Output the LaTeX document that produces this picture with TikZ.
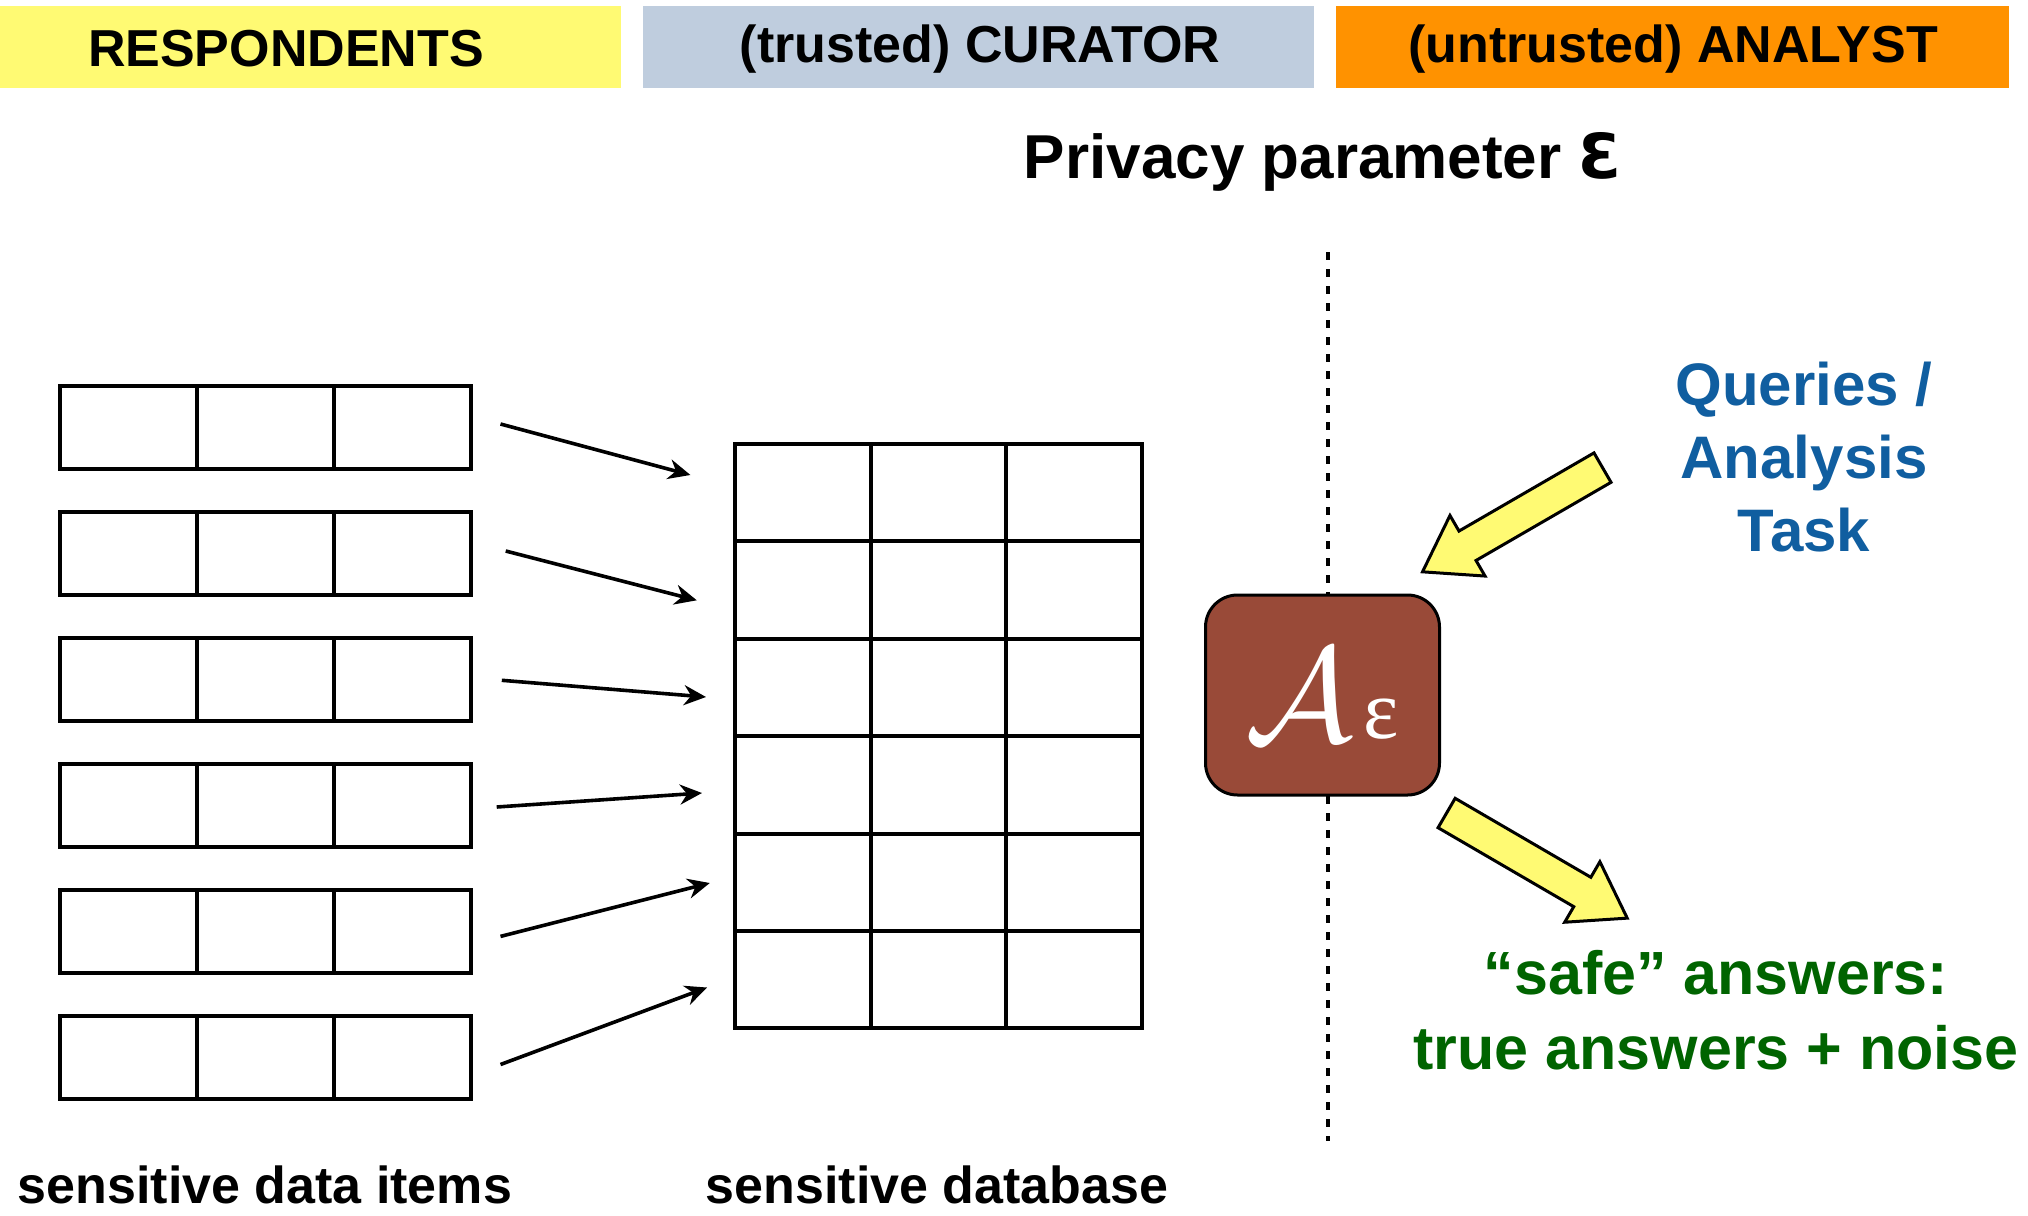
\documentclass[tikz,border=0pt]{standalone}
\usepackage{fontspec}
\usepackage{graphicx}
\setmainfont{Liberation Sans}
\newfontfamily\greekserif{Liberation Serif}
\newfontfamily\dejavu{DejaVu Sans}
\usetikzlibrary{arrows.meta}
\definecolor{hdryellow}{RGB}{255,250,115}
\definecolor{hdrblue}{RGB}{191,205,222}
\definecolor{hdrorange}{RGB}{255,146,0}
\definecolor{algbrown}{RGB}{153,74,56}
\definecolor{qblue}{RGB}{16,94,160}
\definecolor{agreen}{RGB}{0,100,0}
\begin{document}
\begin{tikzpicture}[x=1pt,y=-1pt,
  hdrtext/.style={font=\fontsize{52}{60}\selectfont\bfseries, inner sep=0pt},
  cell/.style={draw=black, line width=4pt, minimum width=137pt, minimum height=83pt, inner sep=0pt, outer sep=0pt},
  dbcell/.style={draw=black, line width=4pt, minimum width=135.7pt, minimum height=97.4pt, inner sep=0pt, outer sep=0pt},
  dataarrow/.style={line width=3.6pt, -{Stealth[length=22pt,width=20pt]}},
  divider/.style={line width=3.5pt, dash pattern=on 8pt off 9pt},
  algbox/.style={draw=black, line width=3pt, fill=algbrown, rounded corners=32pt, minimum width=234pt, minimum height=200pt, inner sep=0pt},
  fatarrow/.style={draw=black, line width=3pt, fill=hdryellow, line join=miter},
  bigtext/.style={font=\fontsize{60}{73}\selectfont\bfseries, align=center, inner sep=0pt},
  labeltext/.style={font=\fontsize{52}{60}\selectfont\bfseries, inner sep=0pt}
]
\useasboundingbox (0,0) rectangle (2028,1215);
\fill[white] (0,0) rectangle (2028,1215);
% header bars
\fill[hdryellow] (0,6) rectangle (621,88);
\fill[hdrblue] (643,6) rectangle (1314,88);
\fill[hdrorange] (1336,6) rectangle (2009,88);
\node[hdrtext] (resp) at (286,49) {RESPONDENTS};
\node[hdrtext] (cur) at (980,49) {(trusted) CURATOR};
\node[hdrtext] (ana) at (1673,49) {(untrusted) ANALYST};
% privacy parameter
\node[font=\fontsize{62}{70}\selectfont\bfseries, inner sep=0pt] (priv) at (1323,162) {Privacy parameter {\dejavu\bfseries Ɛ}};
% respondents rows
\foreach \i in {0,...,5}{
  \foreach \j in {0,1,2}{
    \node[cell] (r\i c\j) at ({59.5+137*(\j+0.5)},{385.5+126*\i+41.5}) {};
  }
}
% database
\foreach \i in {0,...,5}{
  \foreach \j in {0,1,2}{
    \node[dbcell] (d\i c\j) at ({735+135.7*(\j+0.5)},{444+97.4*(\i+0.5)}) {};
  }
}
% data arrows
\coordinate (s0) at (500.5,424);   \coordinate (t0) at (690.4,475);
\coordinate (s1) at (505.7,551);   \coordinate (t1) at (696.8,600.3);
\coordinate (s2) at (501.8,680.3); \coordinate (t2) at (706,697);
\coordinate (s3) at (496.7,807);   \coordinate (t3) at (702,793);
\coordinate (s4) at (500.5,936.4); \coordinate (t4) at (709.8,883);
\coordinate (s5) at (500.5,1064.5);\coordinate (t5) at (707.2,987.5);
\foreach \k in {0,...,5}{ \draw[dataarrow] (s\k) -- (t\k); }
% divider
\coordinate (dtop) at (1328,252);
\coordinate (dbot) at (1328,1141);
\draw[divider] (dtop) -- (dbot);
% algorithm box
\node[algbox] (alg) at (1322.5,695) {\textcolor{white}{\raisebox{-3pt}{\scalebox{13.5}{$\mathcal{A}$}}\hspace{10pt}{\fontsize{84}{84}\selectfont\greekserif ε}}};
% yellow arrows
\begin{scope}[shift={(1602.5,467.6)}, rotate=210.07]
  \draw[fatarrow] (0,-17) -- (156,-17) -- (156,-35) -- (208,0) -- (156,35) -- (156,17) -- (0,17) -- cycle;
\end{scope}
\begin{scope}[shift={(1446.6,813)}, rotate=-30.2]
  \draw[fatarrow] (0,-17) -- (157,-17) -- (157,-35) -- (209,0) -- (157,35) -- (157,17) -- (0,17) -- cycle;
\end{scope}
% texts
\node[bigtext, text=qblue] (query) at (1804,457) {Queries /\\Analysis\\Task};
\node[bigtext, text=agreen, font=\fontsize{61}{75}\selectfont\bfseries] (ans) at (1716,1010) {“safe” answers:\\true answers + noise};
\node[labeltext] (items) at (265,1185) {sensitive data items};
\node[labeltext] (dbl) at (937,1185) {sensitive database};
\end{tikzpicture}
\end{document}
